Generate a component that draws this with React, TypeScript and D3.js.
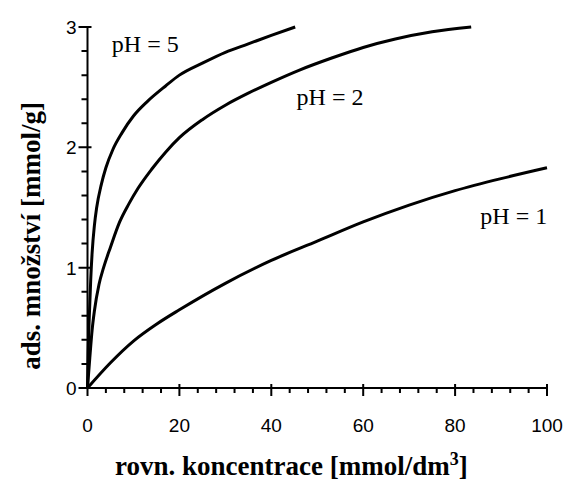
import React from "react";
import * as d3 from "d3";

const ph5X = [0, 0.15, 0.4, 0.7, 1, 1.5, 2, 3, 4, 5.5, 7.5, 10, 13, 17, 20, 25, 30, 35, 40, 45.2];
const ph5Y = [0, 0.3, 0.6, 0.9, 1.12, 1.35, 1.5, 1.69, 1.83, 1.98, 2.12, 2.26, 2.38, 2.51, 2.6, 2.7, 2.79, 2.86, 2.93, 3.0];
const ph2X = [0, 0.5, 1, 1.5, 2.5, 3.5, 5, 7, 9, 11, 14, 17, 20, 25, 30, 35, 40, 46, 53, 60, 67, 75, 83.5];
const ph2Y = [0, 0.25, 0.48, 0.64, 0.86, 1.0, 1.17, 1.38, 1.53, 1.66, 1.82, 1.96, 2.08, 2.23, 2.35, 2.45, 2.54, 2.64, 2.74, 2.83, 2.9, 2.96, 3.0];
const ph1X = [0, 5, 10, 15, 20, 30, 40, 50, 60, 70, 80, 90, 100];
const ph1Y = [0, 0.21, 0.39, 0.53, 0.65, 0.87, 1.06, 1.22, 1.38, 1.52, 1.64, 1.74, 1.83];

const xTicks = [0, 20, 40, 60, 80, 100];
const yTicks = [0, 1, 2, 3];
const seriesLabels = ["pH = 5", "pH = 2", "pH = 1"];
const labelAnchors = [
  [5.3, 2.79],
  [45.5, 2.35],
  [85.5, 1.36],
];

export default function App() {
  const W = 567, H = 482;
  const x = d3.scaleLinear().domain([0, 100]).range([87.5, 547]);
  const y = d3.scaleLinear().domain([0, 3]).range([388, 27]);
  const line = d3
    .line<[number, number]>()
    .x((d) => x(d[0]))
    .y((d) => y(d[1]))
    .curve(d3.curveMonotoneX);
  const series = [
    d3.zip(ph5X, ph5Y) as [number, number][],
    d3.zip(ph2X, ph2Y) as [number, number][],
    d3.zip(ph1X, ph1Y) as [number, number][],
  ];
  const xMinor = d3.range(0, 101, 4).filter((v) => v % 20 !== 0);
  const yMinor = d3.range(0, 16).filter((v) => v % 5 !== 0).map((v) => v / 5);
  const serif = "'Liberation Serif', 'Times New Roman', serif";
  const sans = "'Liberation Sans', Arial, sans-serif";
  const x0 = x(0);
  const yb = y(0);
  const tickPath =
    yTicks.map((v) => `M${x0 - 9},${y(v)}H${x0 + 4}`).join("") +
    yMinor.map((v) => `M${x0 - 6},${y(v)}H${x0}`).join("") +
    xTicks.map((v) => `M${x(v)},${yb - 4}V${yb + 8}`).join("") +
    xMinor.map((v) => `M${x(v)},${yb}V${yb + 5}`).join("");
  return (
    <svg width={W} height={H} style={{ position: "absolute", left: 0, top: 0, background: "#fff" }}>
      <rect width={W} height={H} fill="#fff" />
      <path d={tickPath} stroke="#000" strokeWidth={2} fill="none" />
      <line x1={x0} x2={x0} y1={y(3)} y2={yb} stroke="#000" strokeWidth={2} />
      <line x1={x0} x2={x(100)} y1={yb} y2={yb} stroke="#000" strokeWidth={2} />
      {yTicks.map((v) => (
        <text key={"yl" + v} x={x0 - 11} y={y(v)} dy="0.36em" textAnchor="end" fontFamily={sans} fontSize={19}>
          {v}
        </text>
      ))}
      {xTicks.map((v) => (
        <text key={"xl" + v} x={x(v)} y={yb + 44} textAnchor="middle" fontFamily={sans} fontSize={19}>
          {v}
        </text>
      ))}
      {series.map((s, i) => (
        <path key={"s" + i} d={line(s) || ""} fill="none" stroke="#000" strokeWidth={3} />
      ))}
      {seriesLabels.map((t, i) => (
        <text key={"l" + i} x={x(labelAnchors[i][0])} y={y(labelAnchors[i][1])} fontFamily={serif} fontSize={24}>
          {t}
        </text>
      ))}
      <text x={115} y={475} fontFamily={serif} fontWeight="bold" fontSize={27}>
        rovn. koncentrace [mmol/dm
        <tspan dy={-10} fontSize={18}>3</tspan>
        <tspan dy={10}>]</tspan>
      </text>
      <text
        transform={`translate(40, 236) rotate(-90)`}
        textAnchor="middle"
        fontFamily={serif}
        fontWeight="bold"
        fontSize={27}
      >
        ads. množství [mmol/g]
      </text>
    </svg>
  );
}
